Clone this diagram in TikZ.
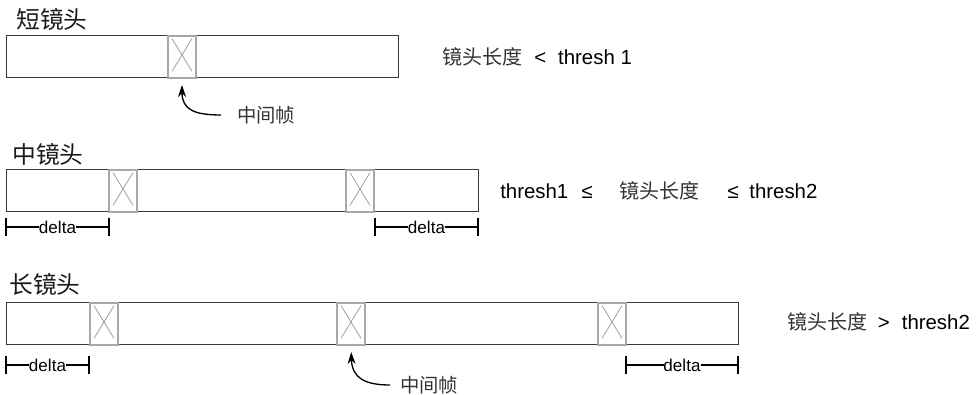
\documentclass[tikz,border=0pt]{standalone}
\usepackage{fontspec}
\setmainfont{Liberation Sans}
\newfontfamily\cjk{Noto Sans CJK SC}
\usetikzlibrary{arrows.meta}
\definecolor{rectgray}{HTML}{3A3A3A}
\definecolor{framegray}{HTML}{A8A8A8}
\definecolor{xgray}{HTML}{A0A0A0}
\definecolor{cjkgray}{HTML}{333333}
\definecolor{titlegray}{HTML}{1A1A1A}
\tikzset{
  shotbox/.style={draw=rectgray, line width=0.75pt, fill=white, minimum height=31.5pt, inner sep=0pt},
  framebox/.style={draw=framegray, line width=1.5pt, fill=white, minimum width=21pt, minimum height=31.5pt, inner sep=0pt,
    path picture={\draw[xgray, line width=0.6pt]
      ([shift={(3pt,-2pt)}]path picture bounding box.north west) -- ([shift={(-3pt,5pt)}]path picture bounding box.south east)
      ([shift={(-3pt,-2pt)}]path picture bounding box.north east) -- ([shift={(3pt,5pt)}]path picture bounding box.south west);}},
  title/.style={font=\cjk\fontsize{17.8pt}{20pt}\selectfont, text=titlegray, inner sep=0pt},
  cond/.style={font=\fontsize{15.3pt}{18pt}\selectfont, inner sep=0pt, anchor=west},
  lbl/.style={font=\cjk\fontsize{14.5pt}{17pt}\selectfont, text=cjkgray, inner sep=0pt},
  dim/.style={line width=1pt},
  tick/.style={line width=1.1pt},
  dlabel/.style={font=\fontsize{12.8pt}{15pt}\selectfont, fill=white, inner sep=0pt},
  curvarrow/.style={line width=1pt, -{Stealth[length=9pt,width=6pt]}},
}
\newcommand{\zh}[1]{{\cjk\fontsize{15pt}{18pt}\selectfont\color{cjkgray}#1}}
\newcommand{\dimline}[3]{%
  \draw[dim] (#1) -- node[dlabel] (#3) {delta} (#2);
  \draw[tick] ([yshift=7pt]#1) -- ([yshift=-7pt]#1);
  \draw[tick] ([yshift=7pt]#2) -- ([yshift=-7pt]#2);}
\begin{document}
\begin{tikzpicture}[x=0.75pt,y=-0.75pt]
\useasboundingbox (0,0) rectangle (976,395);
% ---- short shot
\node[title] (t1) at (52,19) {短镜头};
\node[shotbox, minimum width=294pt] (s1) at (202,57) {};
\node[framebox] (s1f) at (182,57) {};
\node[cond] (c1) at (442,57) {\zh{镜头长度}\hspace{9pt}<\hspace{9pt}thresh 1};
\node[lbl, anchor=west] (l1) at (237,115) {中间帧};
\draw[curvarrow, shorten <=12pt, shorten >=4.5pt] (l1.west) .. controls (195,115) and (182,110) .. (s1f.south);
% ---- medium shot
\node[title] (t2) at (48,154) {中镜头};
\node[shotbox, minimum width=354pt] (s2) at (242,191) {};
\node[framebox] (s2f1) at (123,191) {};
\node[framebox] (s2f2) at (360,191) {};
\node[cond] (c2) at (500,191) {thresh1\hspace{10pt}≤\hspace{20pt}\zh{镜头长度}\hspace{21pt}≤\hspace{8pt}thresh2};
\coordinate (d2a) at (6,227);
\coordinate (d2b) at (109,227);
\coordinate (d2c) at (375,227);
\coordinate (d2d) at (478,227);
\dimline{d2a}{d2b}{dl2a}
\dimline{d2c}{d2d}{dl2b}
% ---- long shot
\node[title] (t3) at (45,284) {长镜头};
\node[shotbox, minimum width=549pt] (s3) at (372,324) {};
\node[framebox] (s3f1) at (104,324) {};
\node[framebox] (s3f2) at (351,324) {};
\node[framebox] (s3f3) at (612,324) {};
\node[cond] (c3) at (787,322) {\zh{镜头长度}\hspace{8pt}>\hspace{9pt}thresh2};
\coordinate (d3a) at (6,365);
\coordinate (d3b) at (89,365);
\coordinate (d3c) at (626,365);
\coordinate (d3d) at (738,365);
\dimline{d3a}{d3b}{dl3a}
\dimline{d3c}{d3d}{dl3b}
\node[lbl, anchor=west] (l3) at (400,385) {中间帧};
\draw[curvarrow, shorten <=7.5pt, shorten >=4.5pt] (l3.west) .. controls (365,385) and (352,378) .. (s3f2.south);
\end{tikzpicture}
\end{document}
